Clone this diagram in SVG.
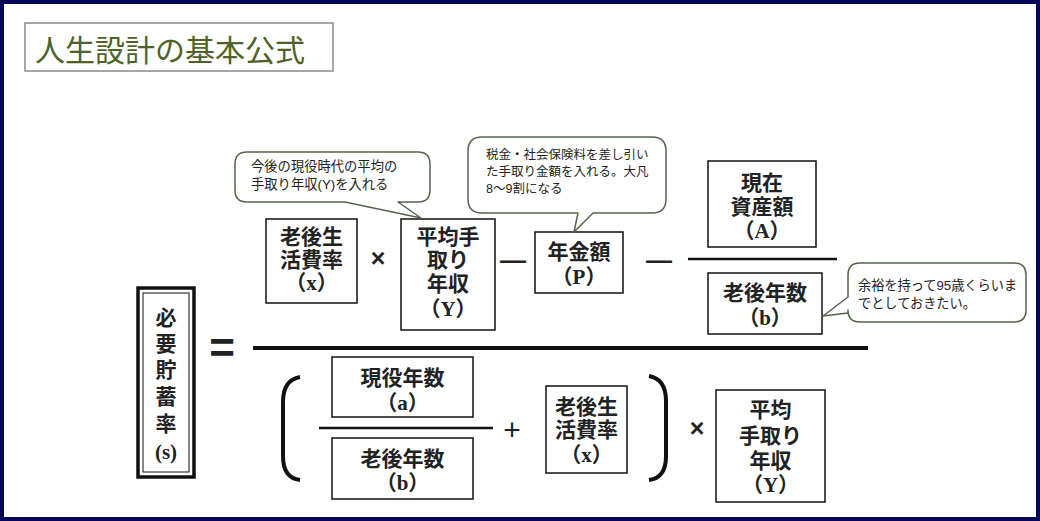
<svg xmlns="http://www.w3.org/2000/svg" width="1040" height="521" viewBox="0 0 1040 521">
<style>
.box{fill:#fff;stroke:#111;stroke-width:1.5}
.bt{font-family:"Liberation Serif","Noto Sans CJK JP",serif;font-size:21px;font-weight:700;fill:#222;text-anchor:middle;dominant-baseline:central}
.ct{font-family:"Liberation Sans","Noto Sans CJK JP",sans-serif;font-size:12.5px;fill:#222}
.c1{font-size:13.3px}
.c3{font-size:13.2px}
.call{fill:#fff;stroke:#56654a;stroke-width:1.5;stroke-linejoin:round}
.op{font-family:"Liberation Sans","Noto Sans CJK JP",sans-serif;fill:#222;text-anchor:middle;dominant-baseline:central}
.ln{stroke:#111;fill:none}
</style>
<rect x="0" y="0" width="1040" height="521" fill="#fff"/>
<rect x="2" y="2" width="1036" height="517" fill="none" stroke="#07075a" stroke-width="4"/>
<g id="title">
<rect x="25" y="23" width="308" height="48" fill="#fff" stroke="#8a8a8a" stroke-width="1.5"/>
<text x="35" y="61" font-family="'Noto Sans CJK JP',sans-serif" font-size="30" fill="#4f6228">人生設計の基本公式</text>
</g>
<g id="connectors">
<line class="ln" x1="253" y1="348" x2="868" y2="348" stroke-width="4"/>
<line class="ln" x1="688" y1="259" x2="837" y2="259" stroke-width="2.5"/>
<line class="ln" x1="319" y1="428" x2="493" y2="428" stroke-width="2.5"/>
<path class="ln" d="M300,377 Q283,380 283,402 L283,456 Q283,478 300,480" stroke-width="4"/>
<path class="ln" d="M649,376 Q666,379 666,401 L666,456 Q666,478 649,480" stroke-width="4"/>
<text class="op" x="222" y="347" font-size="44" font-weight="700">=</text>
<text class="op" x="378" y="258" font-size="25" font-weight="700">×</text>
<text class="op" x="513" y="260" font-size="26" font-weight="700">—</text>
<text class="op" x="659" y="260" font-size="26" font-weight="700">—</text>
<text class="op" x="512" y="429" font-size="30">+</text>
<text class="op" x="697" y="428" font-size="25" font-weight="700">×</text>
</g>
<g id="node-s">
<rect x="138" y="288" width="56" height="189" fill="#fff" stroke="#111" stroke-width="3.5"/>
<rect x="143" y="293" width="46" height="179" fill="none" stroke="#111" stroke-width="1"/>
<text class="bt" x="166" y="318">必</text>
<text class="bt" x="166" y="344">要</text>
<text class="bt" x="166" y="370">貯</text>
<text class="bt" x="166" y="397">蓄</text>
<text class="bt" x="166" y="424">率</text>
<text class="bt" x="166" y="452">(s)</text>
</g>
<g id="node-x">
<rect class="box" x="266" y="219" width="91" height="84"/>
<text class="bt" x="311.5" y="237">老後生</text>
<text class="bt" x="311.5" y="260">活費率</text>
<text class="bt" x="311.5" y="283">（x）</text>
</g>
<g id="node-Y">
<rect class="box" x="401" y="219" width="94" height="111"/>
<text class="bt" x="448" y="237">平均手</text>
<text class="bt" x="448" y="260">取り</text>
<text class="bt" x="448" y="284">年収</text>
<text class="bt" x="448" y="309">（Y）</text>
</g>
<g id="node-P">
<rect class="box" x="535" y="232" width="88" height="61"/>
<text class="bt" x="579" y="252">年金額</text>
<text class="bt" x="579" y="277">（P）</text>
</g>
<g id="node-A">
<rect class="box" x="708" y="161" width="108" height="86"/>
<text class="bt" x="762" y="183">現在</text>
<text class="bt" x="762" y="207">資産額</text>
<text class="bt" x="762" y="231">（A）</text>
</g>
<g id="node-b">
<rect class="box" x="708" y="273" width="114" height="61"/>
<text class="bt" x="765" y="293">老後年数</text>
<text class="bt" x="765" y="318">（b）</text>
</g>
<g id="node-a">
<rect class="box" x="332" y="357" width="141" height="60"/>
<text class="bt" x="402.5" y="378">現役年数</text>
<text class="bt" x="402.5" y="403">（a）</text>
</g>
<g id="node-b2">
<rect class="box" x="332" y="438" width="141" height="61"/>
<text class="bt" x="402.5" y="459">老後年数</text>
<text class="bt" x="402.5" y="483">（b）</text>
</g>
<g id="node-x2">
<rect class="box" x="546" y="386" width="81" height="87"/>
<text class="bt" x="586.5" y="407">老後生</text>
<text class="bt" x="586.5" y="430">活費率</text>
<text class="bt" x="586.5" y="455">（x）</text>
</g>
<g id="node-Y2">
<rect class="box" x="716" y="390" width="109" height="112"/>
<text class="bt" x="770.5" y="410">平均</text>
<text class="bt" x="770.5" y="436">手取り</text>
<text class="bt" x="770.5" y="461">年収</text>
<text class="bt" x="770.5" y="485">（Y）</text>
</g>
<g id="callout-1">
<path class="call" d="M247,152 H418 Q430,152 430,164 V190 Q430,202 418,202 H398 L421,218 L345,202 H247 Q235,202 235,190 V164 Q235,152 247,152 Z"/>
<text class="ct c1" x="251" y="171">今後の現役時代の平均の</text>
<text class="ct c1" x="251" y="189">手取り年収(Y)を入れる</text>
</g>
<g id="callout-2">
<path class="call" d="M482,137 H652 Q666,137 666,151 V199 Q666,213 652,213 H593 L574,232 L578,213 H482 Q468,213 468,199 V151 Q468,137 482,137 Z"/>
<text class="ct" x="486" y="159">税金・社会保険料を差し引い</text>
<text class="ct" x="486" y="176">た手取り金額を入れる。大凡</text>
<text class="ct" x="486" y="193">8〜9割になる</text>
</g>
<g id="callout-3">
<path class="call" d="M860,263 H1014 Q1026,263 1026,275 V310 Q1026,322 1014,322 H860 Q848,322 848,310 V313 L823,316 L848,297 V275 Q848,263 860,263 Z"/>
<text class="ct c3" x="858" y="290">余裕を持って95歳くらいま</text>
<text class="ct c3" x="858" y="308">でとしておきたい。</text>
</g>
</svg>
